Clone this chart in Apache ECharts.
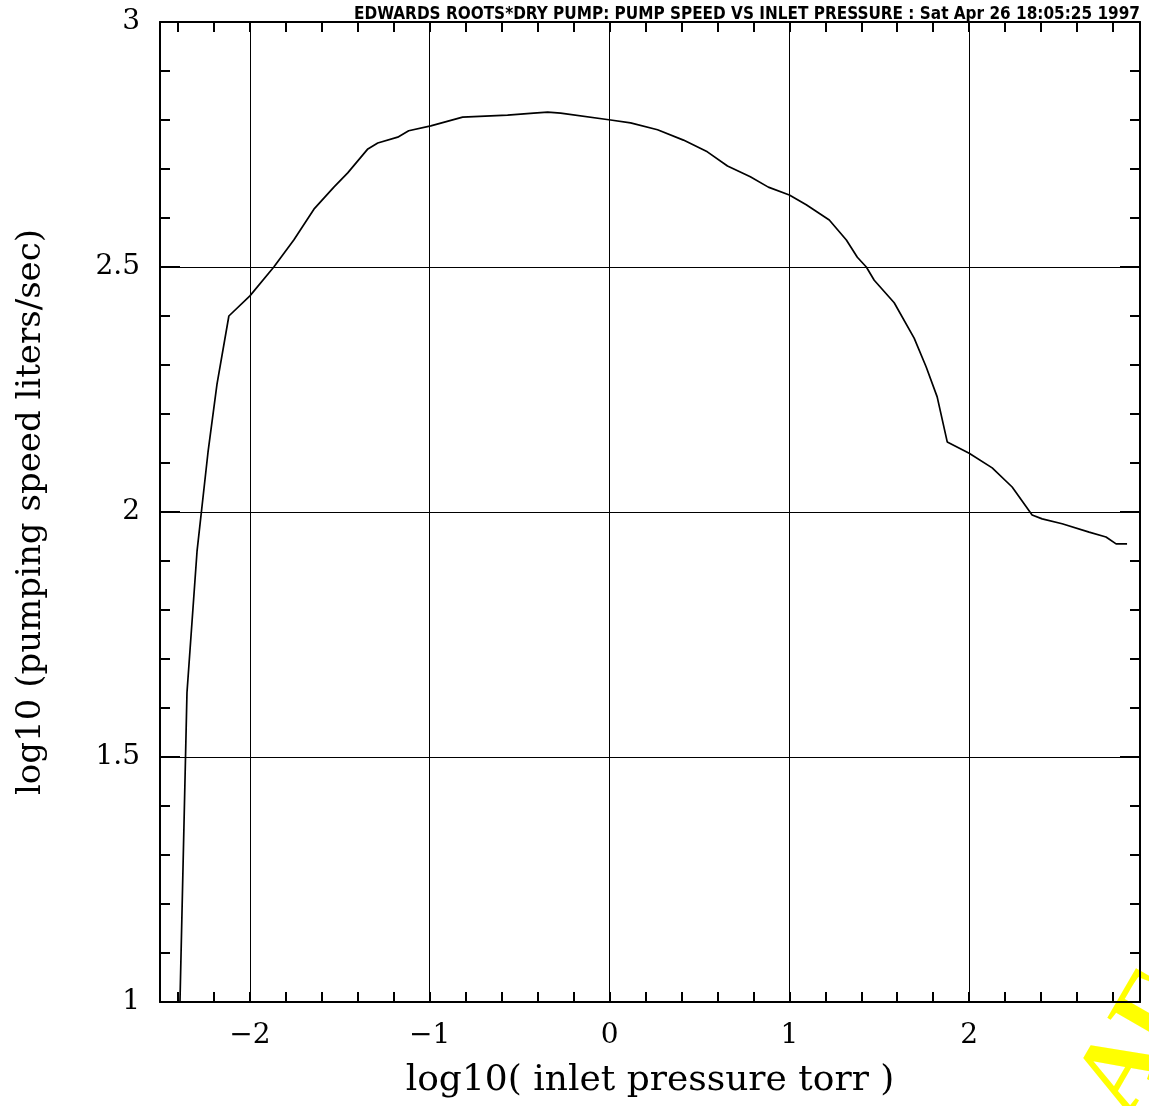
<!DOCTYPE html>
<html>
<head>
<meta charset="utf-8">
<script src="https://cdn.jsdelivr.net/npm/echarts@6/dist/echarts.min.js"></script>
<style>
html,body{margin:0;padding:0;background:#fff;}
#chart{width:1149px;height:1106px;}
</style>
</head>
<body>
<div id="chart"></div>
<script>
// log10 inlet pressure (torr)
const pressure = [-2.389,-2.350,-2.294,-2.233,-2.183,-2.117,-2.000,-1.867,-1.756,-1.644,-1.533,-1.456,-1.344,-1.289,-1.178,-1.117,-0.994,-0.817,-0.567,-0.422,-0.344,-0.272,0.006,0.117,0.267,0.411,0.544,0.656,0.783,0.883,1.000,1.094,1.222,1.317,1.378,1.428,1.472,1.583,1.694,1.761,1.822,1.878,2.000,2.128,2.239,2.350,2.406,2.517,2.667,2.761,2.817,2.878];
// log10 pumping speed (liters/sec)
const speed = [1.000,1.631,1.920,2.122,2.261,2.400,2.441,2.500,2.555,2.618,2.663,2.692,2.741,2.753,2.765,2.778,2.788,2.806,2.810,2.814,2.816,2.814,2.800,2.794,2.780,2.759,2.735,2.706,2.684,2.663,2.647,2.627,2.596,2.555,2.520,2.500,2.473,2.427,2.355,2.296,2.235,2.143,2.120,2.090,2.051,1.994,1.986,1.976,1.959,1.949,1.935,1.935];
const xLabels = [-2,-1,0,1,2];
const xTicks = [-2.4,-2.2,-2,-1.8,-1.6,-1.4,-1.2,-1,-0.8,-0.6,-0.4,-0.2,0,0.2,0.4,0.6,0.8,1,1.2,1.4,1.6,1.8,2,2.2,2.4,2.6,2.8];
const titleText = 'EDWARDS ROOTS*DRY PUMP: PUMP SPEED VS INLET PRESSURE : Sat Apr 26 18:05:25 1997';
const xName = 'log10( inlet pressure torr )';
const yName = 'log10 (pumping speed liters/sec)';
const watermark = 'AF';

const data = pressure.map((x, i) => [x, speed[i]]);
const serif = '"DejaVu Serif", "Liberation Serif", serif';
const fmt = v => String(v).replace('-', '\u2212');

const chart = echarts.init(document.getElementById('chart'), null, {renderer: 'canvas'});
const axisLine = {show: true, onZero: false, lineStyle: {color: '#000', width: 2}};
chart.setOption({
  animation: false,
  backgroundColor: '#fff',
  grid: {left: 160, right: 9, top: 22, bottom: 104, containLabel: false},
  title: {
    text: titleText, right: 9, top: 6, padding: 0,
    textStyle: {fontFamily: '"DejaVu Sans Condensed", "DejaVu Sans"', fontWeight: 'bold', fontSize: 17, color: '#000'}
  },
  xAxis: [
    {
      type: 'value', position: 'bottom', min: -2.5, max: 2.95,
      axisLine: axisLine,
      axisTick: {show: true, inside: true, length: 10, customValues: xTicks, lineStyle: {color: '#000', width: 2}},
      axisLabel: {customValues: xLabels, formatter: fmt, fontFamily: serif, fontSize: 28, color: '#000', margin: 20},
      splitLine: {show: false},
      name: xName, nameLocation: 'middle', nameGap: 61,
      nameTextStyle: {fontFamily: serif, fontSize: 36, color: '#000', verticalAlign: 'top'}
    },
    {
      type: 'value', position: 'top', min: -2.5, max: 2.95,
      axisLine: axisLine,
      axisTick: {show: true, inside: true, length: 10, customValues: xTicks, lineStyle: {color: '#000', width: 2}},
      axisLabel: {show: false},
      splitLine: {show: false}
    }
  ],
  yAxis: [
    {
      type: 'value', position: 'left', min: 1, max: 3, interval: 0.5,
      axisLine: axisLine,
      axisTick: {show: true, inside: true, length: 20, lineStyle: {color: '#000', width: 2}},
      minorTick: {show: true, splitNumber: 5, length: 10, lineStyle: {color: '#000', width: 2}},
      axisLabel: {fontFamily: serif, fontSize: 28, color: '#000', margin: 20},
      splitLine: {show: true, lineStyle: {color: '#000', width: 1}},
      name: yName, nameLocation: 'middle', nameGap: 112, nameRotate: 90,
      nameTextStyle: {fontFamily: serif, fontSize: 34, color: '#000'}
    },
    {
      type: 'value', position: 'right', min: 1, max: 3, interval: 0.5,
      axisLine: axisLine,
      axisTick: {show: true, inside: true, length: 20, lineStyle: {color: '#000', width: 2}},
      minorTick: {show: true, splitNumber: 5, length: 10, lineStyle: {color: '#000', width: 2}},
      axisLabel: {show: false},
      splitLine: {show: false}
    }
  ],
  series: [{
    type: 'line', xAxisIndex: 0, yAxisIndex: 0, data: data,
    showSymbol: false, smooth: false,
    lineStyle: {color: '#000', width: 1.7},
    markLine: {
      silent: true, symbol: 'none', label: {show: false},
      lineStyle: {color: '#000', width: 1, type: 'solid'},
      data: xLabels.map(v => ({xAxis: v}))
    },
    z: 3
  }],
  graphic: [{
    type: 'text', x: 1150, y: 1132, rotation: Math.PI / 3, silent: true,
    style: {text: watermark, font: 'bold 105px "Liberation Serif", serif', fill: '#ffff00', textAlign: 'left', textVerticalAlign: 'bottom'}
  }]
});
</script>
</body>
</html>
